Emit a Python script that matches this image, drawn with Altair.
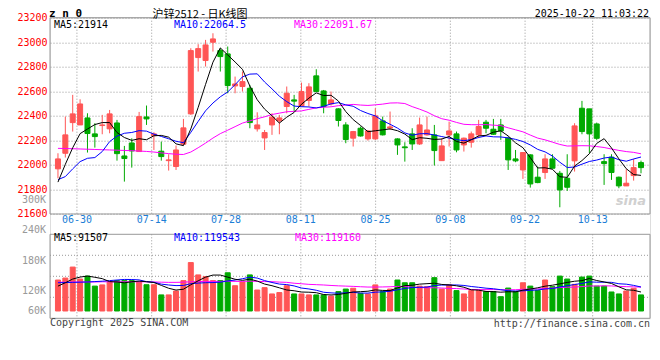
import altair as alt
import pandas as pd

# ---------------- data ----------------
opens = [21968, 22095, 22345, 22326, 22383, 22253, 22321, 22294, 22342, 22073,
         22179, 22109, 22391, 22239, 22112, 22035, 21987, 22169, 22416, 22875,
         22851, 23000, 22932, 22905, 22644, 22639, 22625, 22294, 22220, 22326,
         22359, 22476, 22530, 22481, 22525, 22726, 22603, 22497, 22457, 22326,
         22218, 22299, 22212, 22212, 22359, 22300, 22212, 22147, 22253, 22171,
         22245, 22245, 22035, 22245, 22253, 22163, 22185, 22245, 22348, 22291,
         22326, 22218, 22049, 21959, 22082, 21900, 21938, 22049, 21932, 21891,
         22033, 22462, 22457, 22334, 22027, 22063, 21900, 21829, 21913, 22019]
highs = [22095, 22394, 22571, 22535, 22421, 22340, 22408, 22448, 22367, 22155,
         22217, 22432, 22484, 22266, 22190, 22087, 22158, 22375, 22951, 22984,
         23019, 23073, 22951, 22965, 22720, 22761, 22652, 22429, 22285, 22421,
         22408, 22639, 22571, 22671, 22666, 22780, 22611, 22598, 22462, 22348,
         22277, 22313, 22285, 22462, 22394, 22435, 22217, 22185, 22299, 22386,
         22394, 22326, 22218, 22353, 22272, 22223, 22272, 22367, 22367, 22375,
         22375, 22231, 22122, 22101, 22087, 21987, 22087, 22087, 21951, 22087,
         22340, 22522, 22457, 22345, 22087, 22087, 21905, 21965, 22049, 22035]
lows = [21891, 22060, 22272, 22326, 22101, 22141, 22250, 22258, 22035, 21864,
        21978, 22109, 22326, 22122, 22035, 21954, 21959, 22163, 22408, 22761,
        22802, 22924, 22761, 22584, 22584, 22598, 22299, 22272, 22122, 22245,
        22250, 22421, 22435, 22476, 22476, 22598, 22421, 22484, 22313, 22177,
        22150, 22231, 22198, 22204, 22240, 22285, 22082, 22027, 22122, 22163,
        22239, 21995, 22035, 22150, 22103, 22109, 22141, 22218, 22258, 22245,
        22204, 21959, 22022, 21886, 21815, 21851, 21886, 21973, 21655, 21788,
        21946, 22250, 22095, 22204, 21837, 21878, 21810, 21829, 21872, 21932]
closes = [22049, 22245, 22416, 22497, 22256, 22231, 22326, 22416, 22092, 22052,
          22114, 22394, 22375, 22253, 22068, 22041, 22122, 22302, 22932, 22948,
          22978, 23027, 22883, 22647, 22660, 22679, 22345, 22326, 22264, 22389,
          22383, 22584, 22520, 22598, 22636, 22598, 22476, 22530, 22362, 22207,
          22272, 22236, 22277, 22400, 22245, 22310, 22163, 22140, 22171, 22326,
          22285, 22117, 22155, 22277, 22122, 22218, 22253, 22313, 22299, 22250,
          22277, 22041, 22033, 22101, 21845, 21856, 22049, 21973, 21796, 21818,
          22318, 22272, 22253, 22217, 22011, 21938, 21829, 21851, 21978, 21978]
vols_k = [158, 168, 224, 163, 178, 127, 133, 148, 155, 155,
          155, 148, 134, 134, 82, 82, 102, 155, 247, 184,
          175, 155, 155, 195, 129, 148, 184, 107, 119, 87,
          94, 129, 87, 87, 82, 82, 82, 76, 99, 112,
          116, 90, 87, 133, 99, 112, 158, 144, 144, 127,
          124, 170, 112, 133, 104, 87, 104, 104, 99, 99,
          73, 117, 99, 144, 127, 105, 158, 124, 178, 163,
          136, 173, 178, 127, 127, 97, 87, 102, 116, 82]

# moving-average values at the start of the window
ma5_head = [21860, 22005, 22140, 22255]
ma10_head = [21880, 21905, 21968, 22027, 22054, 22060, 22109, 22190, 22235]
ma30_head = [22135, 22134, 22132, 22130, 22128, 22126, 22124, 22122, 22120, 22118,
             22116, 22113, 22110, 22105, 22098, 22092, 22087, 22085, 22105, 22140,
             22178, 22219, 22255, 22283, 22312, 22341, 22359, 22377, 22392]
vma5_head = [127, 144, 163, 173]
vma10_head = [144, 145, 146, 147, 148, 150, 152, 155, 158]
vma30_head = [147, 147, 148, 148, 148, 148, 149, 149, 149, 149,
              149, 149, 149, 148, 147, 146, 146, 147, 149, 150,
              151, 151, 151, 152, 151, 151, 152, 151, 150]

tick_idx = [2.57, 12.70, 22.78, 32.91, 43.04, 53.17, 63.29, 72.45]
tick_lbl = ["06-30", "07-14", "07-28", "08-11", "08-25", "09-08", "09-22", "10-13"]
price_ticks = [21600, 21800, 22000, 22200, 22400, 22600, 22800, 23000, 23200]
vol_labels = ["240K", "180K", "120K", "60K"]


def rolling(vals, w, head):
    out = list(head)
    for i in range(len(head), len(vals)):
        out.append(sum(vals[i - w + 1:i + 1]) / w)
    return out


vols = [v * 1000 for v in vols_k]
df = pd.DataFrame({
    "i": list(range(len(closes))),
    "o": opens, "h": highs, "l": lows, "c": closes, "v": vols,
    "ma5": rolling(closes, 5, ma5_head),
    "ma10": rolling(closes, 10, ma10_head),
    "ma30": rolling(closes, 30, ma30_head),
    "vma5": rolling(vols, 5, [x * 1000 for x in vma5_head]),
    "vma10": rolling(vols, 10, [x * 1000 for x in vma10_head]),
    "vma30": rolling(vols, 30, [x * 1000 for x in vma30_head]),
})
df["dir"] = ["up" if c >= o else "down" for o, c in zip(opens, closes)]
ticks_df = pd.DataFrame({"t": tick_idx, "lbl": tick_lbl})

# ---------------- layout ----------------
MONO = "DejaVu Sans Mono"
RED, GREEN = "#ff5555", "#00aa00"
GRID, BORDER = "#999999", "#999999"
W, H = 600, 300.6            # whole plotting area (price panel + gap + volume panel)
P_TOP, P_BOT = 23200, 21600
P_H = 196.3                  # price panel height
P_LO = P_TOP - H * (P_TOP - P_BOT) / P_H
V_PER_PX, V_ZERO = 5100, 293.3
VP_TOP = 216.6               # volume panel top (px from top)
V_TOPVAL = (V_ZERO - VP_TOP) * V_PER_PX
V_BOTVAL = -(H - V_ZERO) * V_PER_PX
vgrid = [V_TOPVAL - (V_TOPVAL - V_BOTVAL) * k / 4 for k in (1, 2, 3)]

xsc = alt.Scale(domain=[-0.4, 79.54], nice=False, zero=False)
psc = alt.Scale(domain=[P_LO, P_TOP], nice=False, zero=False)
vsc = alt.Scale(domain=[V_BOTVAL, V_ZERO * V_PER_PX], nice=False, zero=False)

cscale = alt.Scale(domain=["up", "down"], range=[RED, GREEN])
col = alt.Color("dir:N", scale=cscale, legend=None)
stk = alt.Stroke("dir:N", scale=cscale, legend=None)
X = alt.X("i:Q", scale=xsc, axis=None, title=None)

yaxis_price = alt.Axis(values=price_ticks, format="d", grid=True, gridColor=GRID,
                       gridDash=[1, 2], gridWidth=1, labelColor="#ff0000", labelPadding=3,
                       labelFont=MONO, labelFontSize=10, labelOverlap=False,
                       labelFlush=False, ticks=False, domain=False)

one = pd.DataFrame({"k": [0]})


def label(s, x, y, color="#000000", size=10, align="left", font=MONO, weight="normal",
          style="normal"):
    return alt.Chart(one).mark_text(text=s, align=align, baseline="middle", color=color,
                                    fontSize=size, font=font, fontWeight=weight,
                                    fontStyle=style).encode(x=alt.value(x), y=alt.value(y))


# grids
vgrid_price = alt.Chart(ticks_df).mark_rule(color=GRID, strokeDash=[1, 2], strokeWidth=1).encode(
    x=alt.X("t:Q", scale=xsc, axis=None),
    y=alt.YDatum(P_TOP, scale=psc, axis=None), y2=alt.Y2Datum(P_BOT))
vgrid_vol = alt.Chart(ticks_df).mark_rule(color=GRID, strokeDash=[1, 2], strokeWidth=1).encode(
    x=alt.X("t:Q", scale=xsc, axis=None),
    y=alt.YDatum(V_TOPVAL, scale=vsc, axis=None), y2=alt.Y2Datum(V_BOTVAL))
hgrid_vol = alt.Chart(pd.DataFrame({"g": vgrid})).mark_rule(
    color=GRID, strokeDash=[1, 2], strokeWidth=1).encode(
    y=alt.Y("g:Q", scale=vsc, axis=None), x=alt.value(0), x2=alt.value(W))

# candles
wicks = alt.Chart(df).mark_rule(strokeWidth=1).encode(
    x=X, y=alt.Y("l:Q", scale=psc, axis=yaxis_price, title=None), y2="h:Q", color=col)
bodies = alt.Chart(df).mark_bar(size=5, strokeWidth=1).encode(
    x=X, y=alt.Y("o:Q", scale=psc, axis=None, title=None), y2="c:Q", color=col, stroke=stk)
vbars = alt.Chart(df).mark_bar(size=5, strokeWidth=1).encode(
    x=X, y=alt.Y("v:Q", scale=vsc, axis=None, title=None), y2=alt.datum(0),
    color=col, stroke=stk)


def line(field, color, sc):
    return alt.Chart(df).mark_line(color=color, strokeWidth=1).encode(
        x=X, y=alt.Y(f"{field}:Q", scale=sc, axis=None, title=None))


border_price = alt.Chart(one).mark_rect(fillOpacity=0, stroke=BORDER, strokeWidth=1).encode(
    x=alt.value(0), x2=alt.value(W),
    y=alt.YDatum(P_TOP, scale=psc, axis=None), y2=alt.Y2Datum(P_BOT))
border_vol = alt.Chart(one).mark_rect(fillOpacity=0, stroke=BORDER, strokeWidth=1).encode(
    x=alt.value(0), x2=alt.value(W),
    y=alt.YDatum(V_TOPVAL, scale=vsc, axis=None), y2=alt.Y2Datum(V_BOTVAL))

date_labels = alt.Chart(ticks_df).mark_text(
    color="#1c7ed6", font=MONO, fontSize=10, baseline="middle", align="center").encode(
    x=alt.X("t:Q", scale=xsc, axis=None), y=alt.value(202.8), text="lbl:N")

vlab_y = [212.6, 243.3, 273.3, 293.0]
texts = [
    label("z n 0", -1, -3.7, size=11, weight="bold"),
    label("沪锌2512 - 日K线图", 150, -2.5, size=11, align="center", font="Noto Sans CJK SC"),
    label("2025-10-22 11:03:22", 599, -3.7, align="right"),
    label("MA5:21914", 4, 7),
    label("MA10:22064.5", 124, 7, color="#0000ff"),
    label("MA30:22091.67", 244, 7, color="#ff00ff"),
    label("300K", -4, 182.3, color="#999999", align="right"),
    label("sina", 596, 183.3, color="#d0d0d0", size=13, weight="bold", style="italic",
          align="right", font="DejaVu Sans"),
    label("MA5:91507", 4, 220.8),
    label("MA10:119543", 124, 220.8, color="#0000ff"),
    label("MA30:119160", 245, 220.8, color="#ff00ff"),
    label("Copyright 2025 SINA.COM", 0, 305.8, color="#444444"),
    label("http://finance.sina.com.cn", 600, 306.3, color="#444444", align="right"),
] + [label(s, -4, y, color="#999999", align="right") for s, y in zip(vol_labels, vlab_y)]

chart = alt.layer(
    vgrid_price, vgrid_vol, hgrid_vol,
    wicks, bodies, vbars,
    line("ma30", "#ff00ff", psc), line("ma10", "#0000ff", psc), line("ma5", "#000000", psc),
    line("vma30", "#ff00ff", vsc), line("vma10", "#0000ff", vsc), line("vma5", "#000000", vsc),
    border_price, border_vol, date_labels, *texts,
).resolve_scale(y="independent").properties(
    width=W, height=H,
    autosize=alt.AutoSizeParams(type="none"),
    padding={"left": 42, "top": 9.7, "right": 2, "bottom": 16},
).configure_view(stroke=None).configure(background="white")

chart.save("out.html", embed_options={"renderer": "svg", "actions": False})
